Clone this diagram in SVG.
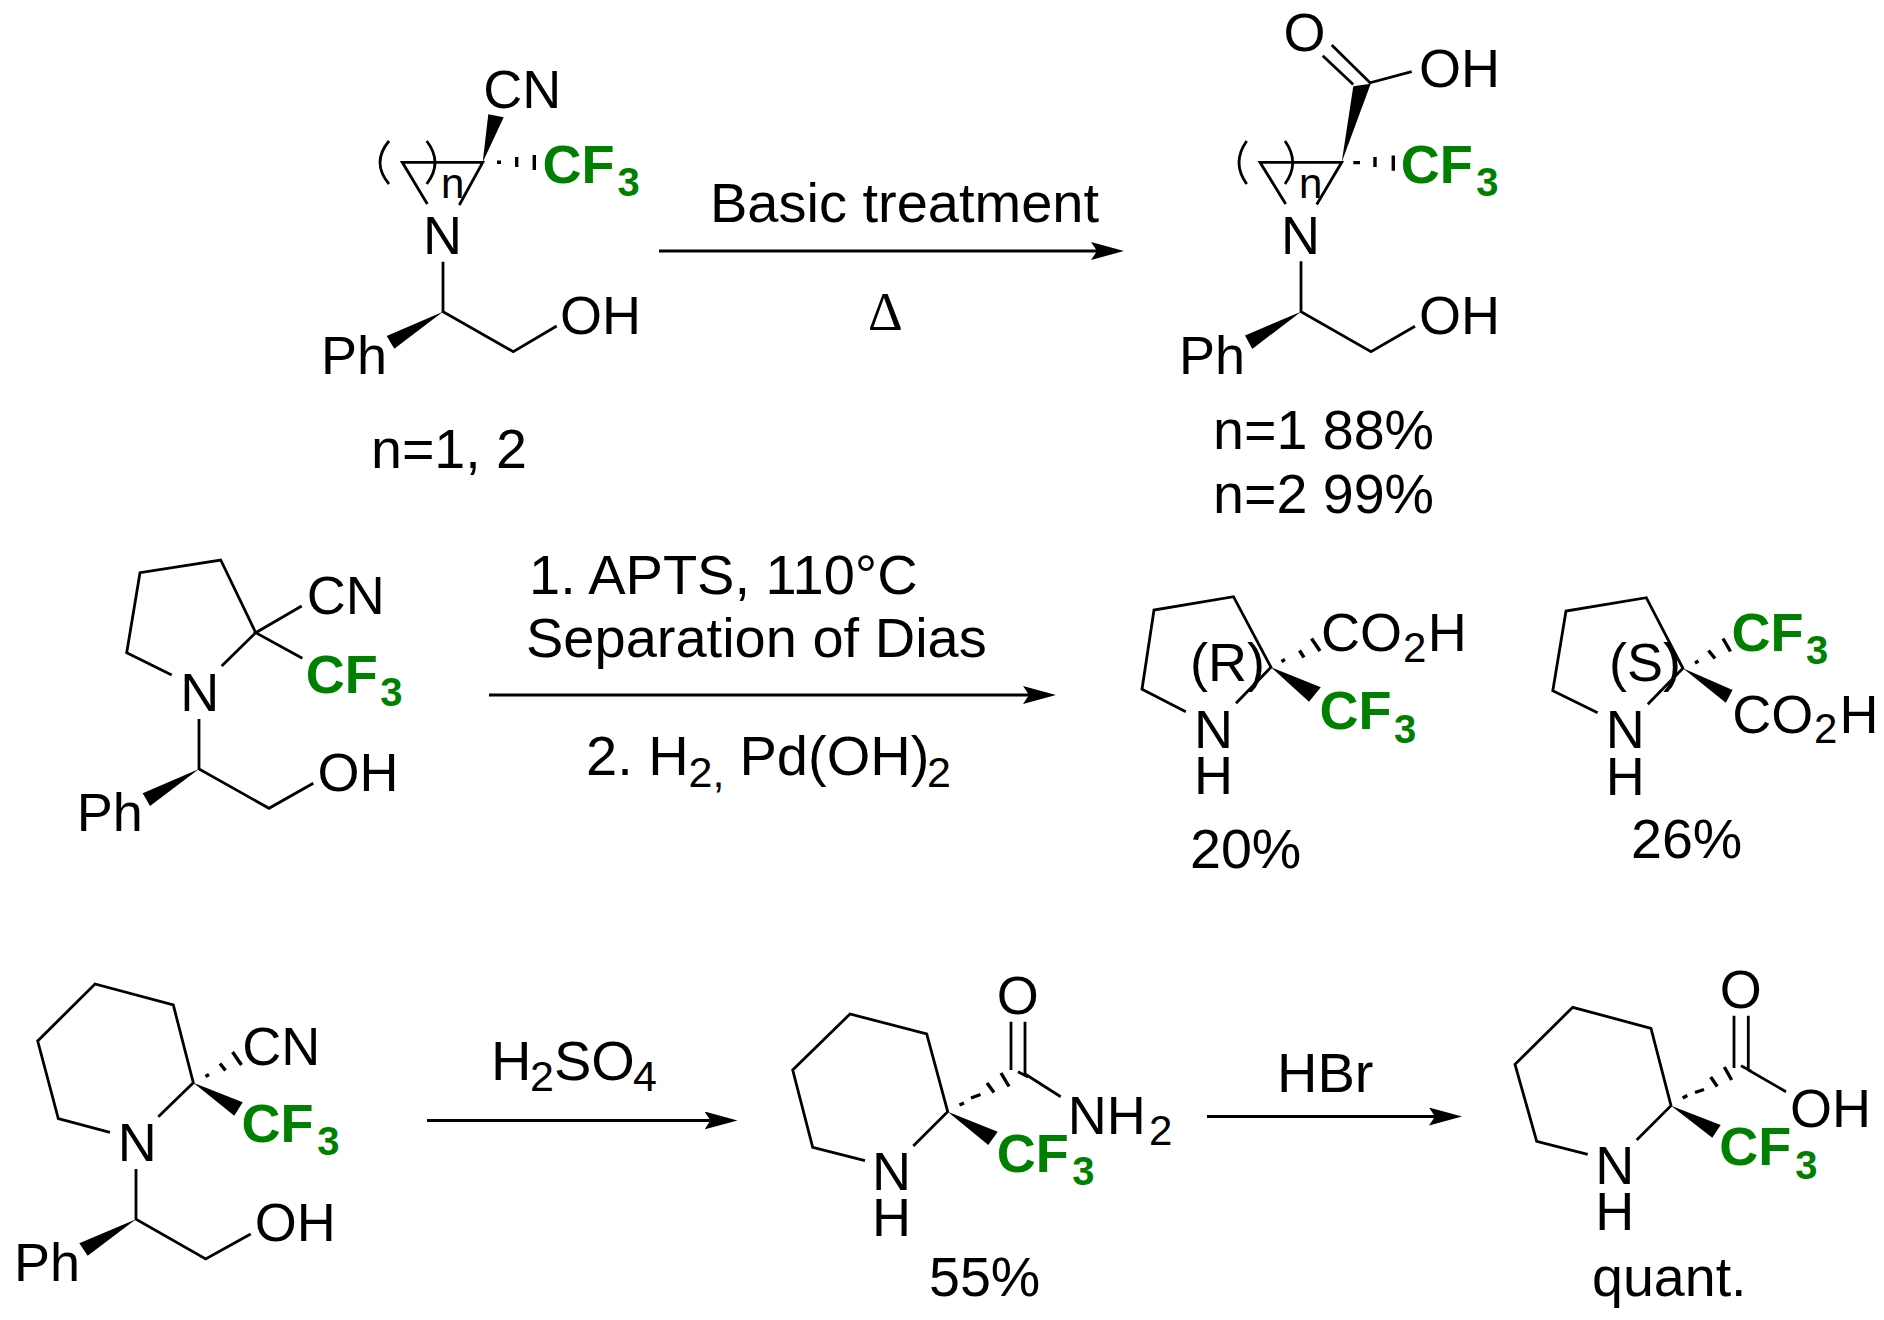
<svg xmlns="http://www.w3.org/2000/svg" width="1884" height="1320" viewBox="0 0 1884 1320">
<style>
text{font-family:"Liberation Sans",Arial,sans-serif;font-size:54px;fill:#000}
.g{font-weight:bold;fill:#008000}
.s{font-size:42px}
.gs{font-size:40px}
.r{font-size:56px}
.rs{font-size:43px}
.n{font-size:42px}
.y{font-size:55.6px}
.d{font-family:"Liberation Serif","Times New Roman",serif}
.b{fill:none;stroke:#000;stroke-width:2.8;stroke-linejoin:miter}
.p{fill:none;stroke:#000;stroke-width:2.8}
.h{fill:none;stroke:#000;stroke-width:3.4}
.w{fill:#000;stroke:none}
.a{fill:none;stroke:#000;stroke-width:3}
</style>
<defs>
<marker id="head" markerUnits="userSpaceOnUse" viewBox="0 0 33 18" markerWidth="33" markerHeight="18" refX="6" refY="9" orient="auto"><path d="M0 0L33 9L0 18L6 9Z" fill="#000"/></marker>
</defs>
<rect width="1884" height="1320" fill="#fff"/>

<g id="connectors">
<line class="a" x1="659" y1="251" x2="1097" y2="251" marker-end="url(#head)"/>
<line class="a" x1="489" y1="695" x2="1029" y2="695" marker-end="url(#head)"/>
<line class="a" x1="427" y1="1120.5" x2="710.5" y2="1120.5" marker-end="url(#head)"/>
<line class="a" x1="1207" y1="1116.5" x2="1435" y2="1116.5" marker-end="url(#head)"/>
</g>

<g id="reagent-1">
<text class="r" x="710" y="222">Basic treatment</text>
<text class="d" x="868" y="329.5">Δ</text>
</g>
<g id="reagent-2">
<text class="r" x="529" y="594">1. APTS, 110°C</text>
<text class="r" x="526" y="656.5">Separation of Dias</text>
<text class="r" x="586" y="775">2. H<tspan class="rs" x="688.5" y="787">2,</tspan><tspan x="739.5" y="775">Pd(OH)</tspan><tspan class="rs" x="927" y="787">2</tspan></text>
</g>
<g id="reagent-3">
<text class="r" x="491" y="1080">H<tspan class="rs" x="530" y="1091">2</tspan><tspan x="554" y="1080">SO</tspan><tspan class="rs" x="633" y="1091">4</tspan></text>
<text class="r" x="1277" y="1091.5">HBr</text>
</g>

<g id="aziridine-nitrile">
<path class="b" d="M427.3 204L402.3 162.3H482.7L459.3 205"/>
<path class="b" d="M443 261.7V311.7L513.3 351.7L556.7 326"/>
<path class="w" d="M482.7 162.3L488.3 114.3L503.7 117.3Z"/>
<path class="w" d="M443 311.7L386.7 336L394.3 348.7Z"/>
<path class="h" d="M497 162.3H501M516.7 157V167M534.3 155V170"/>
<path class="p" d="M389 141Q371 162.5 389 184M426.7 141Q443.3 162.5 426.7 184"/>
<text class="n" x="441" y="198.3">n</text>
<text x="483.3" y="108">CN</text>
<text class="g" x="542.5" y="182.7">CF<tspan class="gs" x="617.5" y="195.7">3</tspan></text>
<text x="423" y="254">N</text>
<text x="560" y="334">OH</text>
<text x="321" y="374">Ph</text>
<text class="y" x="371" y="467.7" textLength="156">n=1, 2</text>
</g>

<g id="aziridine-acid">
<path class="b" d="M1285.7 203.9L1260 162.3H1341.7L1316.7 204.5"/>
<path class="b" d="M1301 261.3V311.7L1371 351.6L1415 326.2"/>
<path class="b" d="M1322.7 55.8L1353.3 84.5M1331.7 45L1370 82.8L1411.7 71.7"/>
<path class="w" d="M1341.7 162.3L1353.3 86.2L1370.7 83.8Z"/>
<path class="w" d="M1301 311.7L1245 335.4L1252.3 348.9Z"/>
<path class="h" d="M1353.3 162.6H1360M1375 157V167M1393.3 155.5V170.7"/>
<path class="p" d="M1246.7 141Q1231.3 162.5 1246.7 184M1285 141Q1300.4 162.5 1285 184"/>
<text class="n" x="1299" y="198.4">n</text>
<text x="1283.5" y="50.7">O</text>
<text x="1419" y="86.9">OH</text>
<text class="g" x="1400.8" y="182.6">CF<tspan class="gs" x="1476.3" y="196">3</tspan></text>
<text x="1281" y="253.5">N</text>
<text x="1419" y="334">OH</text>
<text x="1179" y="373.6">Ph</text>
<text class="y" x="1213" y="449">n=1 88%</text>
<text class="y" x="1213" y="512.8">n=2 99%</text>
</g>

<g id="pyrrolidine-nitrile">
<path class="b" d="M171.7 675L126.7 652.7L140 572.7L220.7 560L255.7 632.7L221.7 666"/>
<path class="b" d="M301.7 606L255.7 632.7L302.3 658.3"/>
<path class="b" d="M199 719V769L269 808.3L313.3 783.3"/>
<path class="w" d="M199 769L142.7 793.3L150 806Z"/>
<text x="306.7" y="613.5">CN</text>
<text class="g" x="305.8" y="693.3">CF<tspan class="gs" x="380.3" y="705.7">3</tspan></text>
<text x="180.3" y="711">N</text>
<text x="317.4" y="790.5">OH</text>
<text x="76.7" y="830.7">Ph</text>
</g>

<g id="pyrrolidine-r">
<path class="b" d="M1185.8 711.7L1142 689.3L1154 610L1233.5 596.7L1271 667.3L1236 703.3"/>
<path class="w" d="M1271 667.3L1320.8 687.3L1309 701.7Z"/>
<path class="h" d="M1281.5 661.5L1285 659.5M1299.5 650.5L1304 657.5M1311.5 638.5L1320 651"/>
<text x="1190" y="681">(R)</text>
<text x="1194" y="747.7">N</text>
<text x="1194" y="794">H</text>
<text x="1321" y="651">CO<tspan class="s" x="1403" y="662.3">2</tspan><tspan x="1427.7" y="651">H</tspan></text>
<text class="g" x="1319.5" y="729.3">CF<tspan class="gs" x="1394" y="743.3">3</tspan></text>
<text class="y" x="1190" y="868.3">20%</text>
</g>

<g id="pyrrolidine-s">
<path class="b" d="M1597.6 712.7L1552.8 690.7L1566 611L1646.3 597.7L1682.9 668.3L1647.8 704.3"/>
<path class="w" d="M1682.9 668.3L1732.6 690L1725.8 702.7Z"/>
<path class="h" d="M1695 663L1698.5 661M1708.5 650.5L1715 658.5M1723 638.5L1730.5 651.5"/>
<text x="1609" y="681">(S)</text>
<text x="1605.8" y="748.3">N</text>
<text x="1605.8" y="795">H</text>
<text class="g" x="1731.5" y="650.7">CF<tspan class="gs" x="1806" y="664">3</tspan></text>
<text x="1732.3" y="732.7">CO<tspan class="s" x="1814" y="743">2</tspan><tspan x="1839.4" y="732.7">H</tspan></text>
<text class="y" x="1631" y="858.3">26%</text>
</g>

<g id="piperidine-nitrile">
<path class="b" d="M110 1132.3L58.3 1118.7L37.7 1041L95 984L173.3 1005L193.3 1082.7L158.3 1116.7"/>
<path class="b" d="M136 1169V1219.3L205.7 1259L250.7 1234"/>
<path class="w" d="M193.3 1082.7L242.7 1102.3L234.3 1115.7Z"/>
<path class="w" d="M136 1219.3L79.3 1243.3L87.7 1255.7Z"/>
<path class="h" d="M205.5 1076.5L209 1074.5M220 1063.5L225.5 1070.5M232.5 1052L241.5 1065"/>
<text x="242.3" y="1064.5">CN</text>
<text class="g" x="241.5" y="1142">CF<tspan class="gs" x="317.3" y="1155">3</tspan></text>
<text x="117.7" y="1161">N</text>
<text x="254.7" y="1240.5">OH</text>
<text x="14" y="1280.5">Ph</text>
</g>

<g id="piperidine-amide">
<path class="b" d="M865 1160.7L812.7 1147.3L792.7 1070L850 1014L926.7 1034L947.7 1111.7L913.3 1146"/>
<path class="b" d="M1011 1021.7V1070M1025 1021.7V1074L1060.7 1096.7M1018 1071.7L1028 1077"/>
<path class="w" d="M947.7 1111.7L997.7 1131.7L988.3 1145Z"/>
<path class="h" d="M959.5 1105L964 1103M971 1098L980.5 1094.5M987 1083L994 1092.5M1001 1073L1009 1086.5"/>
<text x="996.8" y="1014">O</text>
<text x="1067.7" y="1134">NH<tspan class="s" x="1149" y="1145">2</tspan></text>
<text class="g" x="996.8" y="1171.5">CF<tspan class="gs" x="1072.3" y="1185">3</tspan></text>
<text x="872" y="1190">N</text>
<text x="872" y="1236">H</text>
<text class="y" x="929" y="1295.7">55%</text>
</g>

<g id="piperidine-acid">
<path class="b" d="M1587.7 1154.3L1536.7 1141.3L1515 1064.3L1572.7 1007.3L1651 1028.3L1671 1105.7L1636.7 1140"/>
<path class="b" d="M1734 1015.7V1068M1748.3 1015.7V1070L1786 1091.7M1741 1065.7L1751 1071"/>
<path class="w" d="M1671 1105.7L1720.7 1125L1712.3 1137.7Z"/>
<path class="h" d="M1682.7 1098L1687.3 1095.5M1695 1092.5L1704 1089.5M1710.7 1077L1717.3 1086.5M1724.3 1067L1731.7 1080"/>
<text x="1719.8" y="1008.3">O</text>
<text x="1790" y="1127.2">OH</text>
<text class="g" x="1719.2" y="1165">CF<tspan class="gs" x="1795.3" y="1178.5">3</tspan></text>
<text x="1595.3" y="1183.5">N</text>
<text x="1595.3" y="1230">H</text>
<text class="y" x="1592" y="1295.7">quant.</text>
</g>
</svg>
